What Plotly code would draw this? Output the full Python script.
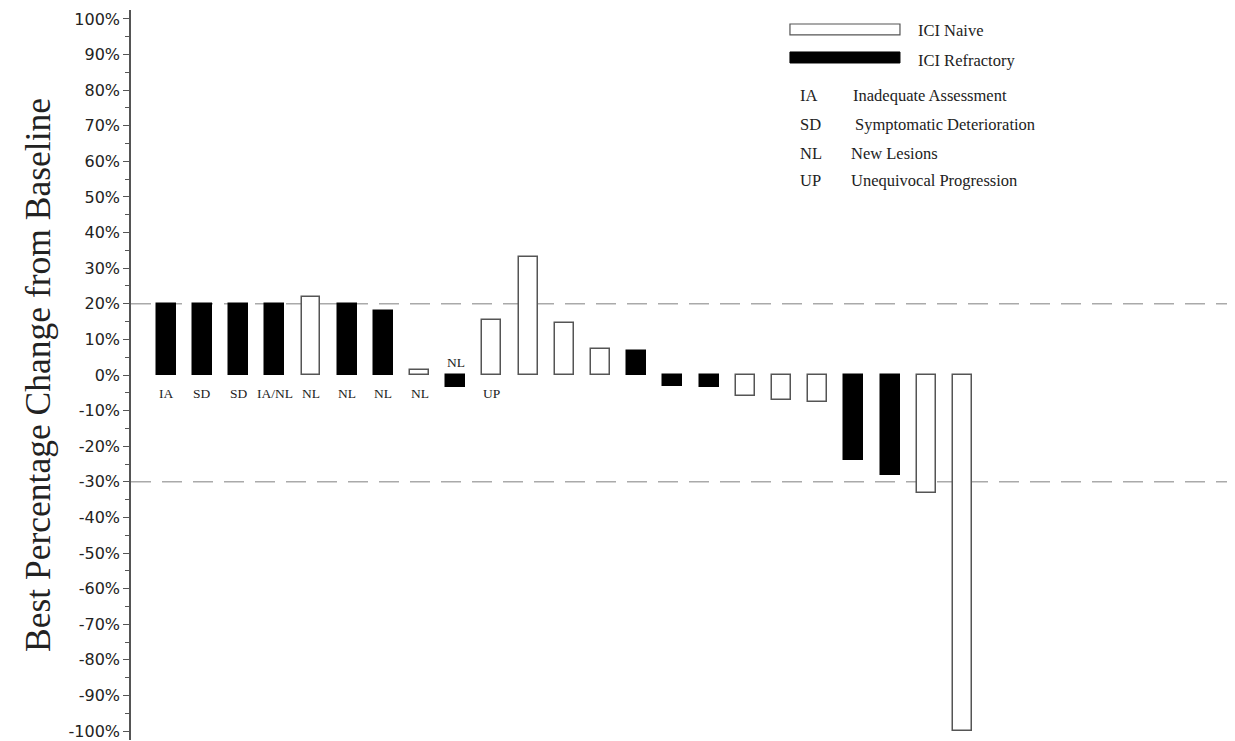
import plotly.graph_objects as go

# ---- data ----
values = [20, 20, 20, 20, 22, 20, 18, 1.4, -3.4, 15.5, 33, 14.6, 7.3, 6.7,
          -3.0, -3.4, -5.9, -6.9, -7.6, -23.8, -28, -33.2, -100]
groups = ["R", "R", "R", "R", "N", "R", "R", "N", "R", "N", "N", "N", "N", "R",
          "R", "R", "N", "N", "N", "R", "R", "N", "N"]
labels = ["IA", "SD", "SD", "IA/NL", "NL", "NL", "NL", "NL", "NL", "UP"] + [""] * 13
ref_lines = [20, -30]
tick_vals = list(range(-100, 101, 10))
tick_text = [f"{v}%" for v in tick_vals]
legend_groups = ["ICI Naive", "ICI Refractory"]
abbrevs = ["IA", "SD", "NL", "UP"]
abbrev_desc = ["Inadequate Assessment", "Symptomatic Deterioration",
               "New Lesions", "Unequivocal Progression"]

xs = list(range(len(values)))
fig = go.Figure()
for g, fill, line in [("N", "white", "#555555"), ("R", "black", "black")]:
    gx = [x for x, gg in zip(xs, groups) if gg == g]
    gy = [v for v, gg in zip(values, groups) if gg == g]
    fig.add_trace(go.Bar(x=gx, y=gy, width=0.52, marker=dict(color=fill, line=dict(color=line, width=1.5)),
                         showlegend=False))

serif = "Liberation Serif, Times New Roman, serif"
for x, v, lab in zip(xs, values, labels):
    if not lab:
        continue
    if v < 0:
        fig.add_annotation(x=x, y=0, text=lab, showarrow=False, yshift=13,
                           font=dict(family=serif, size=13.5, color="#222"))
    else:
        fig.add_annotation(x=x, y=0, text=lab, showarrow=False, yshift=-18,
                           font=dict(family=serif, size=13.5, color="#222"))

for r in ref_lines:
    fig.add_shape(type="line", xref="paper", x0=0, x1=1, y0=r, y1=r,
                  line=dict(color="#aaaaaa", width=1.5, dash="20px,11px"), layer="below")

# legend (manual)
fig.add_shape(type="rect", xref="paper", yref="paper", x0=0.5996, x1=0.6997, y0=0.9658, y1=0.9808,
              line=dict(color="#555555", width=1.2), fillcolor="white")
fig.add_shape(type="rect", xref="paper", yref="paper", x0=0.5996, x1=0.6997, y0=0.9274, y1=0.9425,
              line=dict(color="black", width=1), fillcolor="black")
for txt, yy in zip(legend_groups, [0.9726, 0.9315]):
    fig.add_annotation(xref="paper", yref="paper", x=0.7145, y=yy, text=txt, showarrow=False,
                       xanchor="left", yanchor="middle", font=dict(family=serif, size=16.5, color="#222"))
row_y = [0.8822, 0.8438, 0.8041, 0.7658]
desc_x = [0.655, 0.657, 0.653, 0.653]
for a, d, yy, dx in zip(abbrevs, abbrev_desc, row_y, desc_x):
    fig.add_annotation(xref="paper", yref="paper", x=0.607, y=yy, text=a, showarrow=False,
                       xanchor="left", yanchor="middle", font=dict(family=serif, size=16.5, color="#222"))
    fig.add_annotation(xref="paper", yref="paper", x=dx, y=yy, text=d, showarrow=False,
                       xanchor="left", yanchor="middle", font=dict(family=serif, size=16.5, color="#222"))

fig.update_layout(
    width=1227, height=733, plot_bgcolor="white", paper_bgcolor="white",
    margin=dict(l=123, r=5, t=2, b=1, autoexpand=False), bargap=0,
    xaxis=dict(range=[-0.97, 29.39], visible=False),
    yaxis=dict(range=[-102.5, 102.5], tickvals=tick_vals, ticktext=tick_text,
               showgrid=False, zeroline=False, showline=True, linecolor="#555555", linewidth=1.5,
               ticks="outside", ticklen=6, tickcolor="#555555", tickwidth=1.2,
               ticklabeloverflow="allow",
               tickfont=dict(family="DejaVu Sans, sans-serif", size=16, color="#222"),
               minor=dict(dtick=5, tick0=0, ticks="outside", ticklen=4, tickcolor="#555555", tickwidth=1),
               title=dict(text="Best Percentage Change from Baseline", standoff=7,
                          font=dict(family=serif, size=35.5, color="#222"))),
)
fig.write_html("out.html")
